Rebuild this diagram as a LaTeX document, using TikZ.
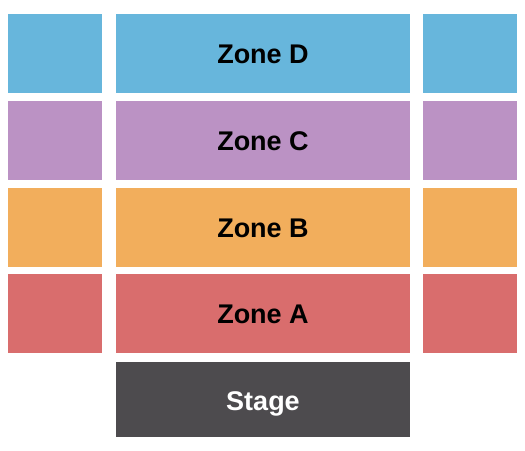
\documentclass[tikz,border=0pt]{standalone}
\usepackage{fontspec}
\setsansfont{Liberation Sans}
\definecolor{zoneD}{HTML}{67B6DC}
\definecolor{zoneC}{HTML}{BB92C4}
\definecolor{zoneB}{HTML}{F2AE5C}
\definecolor{zoneA}{HTML}{D96D6D}
\definecolor{buehne}{HTML}{4D4B4E}
\tikzset{
	zonelabel/.style={font=\sffamily\bfseries\fontsize{27}{31}\selectfont, text=black},
	stagelabel/.style={font=\sffamily\bfseries\fontsize{27}{31}\selectfont, text=white}
}
\begin{document}
\begin{tikzpicture}[x=1pt,y=1pt]
		\useasboundingbox (0,0) rectangle (525,450);
		%Zonen
		\foreach \name/\col/\y in {D/zoneD/357, C/zoneC/269.5, B/zoneB/183, A/zoneA/97} {
			\fill[\col] (8,\y) rectangle ++(94,79);
			\fill[\col] (116,\y) rectangle ++(294,79) node[zonelabel] (zone\name) at (263,\y+39) {Zone \name};
			\fill[\col] (423,\y) rectangle ++(94,79);
		}
		%Stage
		\fill[buehne] (116,13) rectangle ++(294,75) node[stagelabel] (stage) at (263,46.5) {Stage};
\end{tikzpicture}
\end{document}
